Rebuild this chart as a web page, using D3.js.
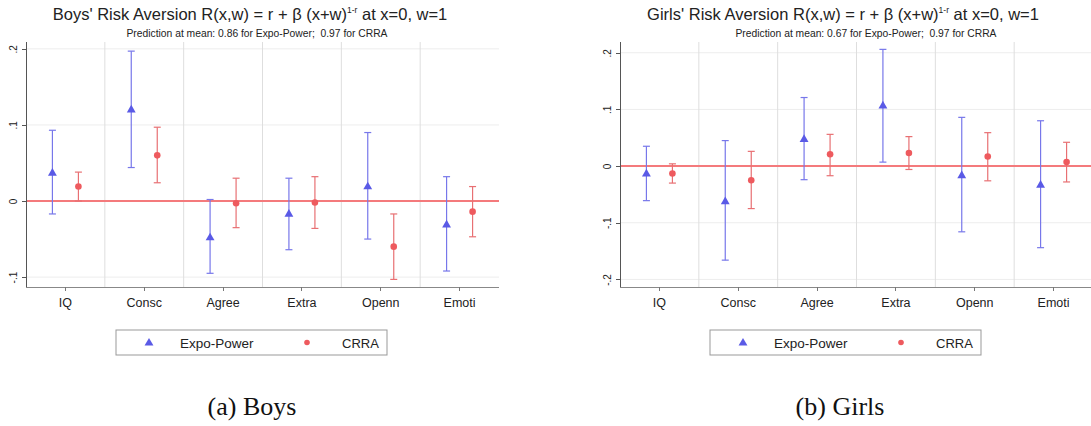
<!DOCTYPE html>
<html lang="en">
<head>
<meta charset="utf-8">
<title>Risk Aversion by personality trait</title>
<script src="https://cdn.jsdelivr.net/npm/d3@7"></script>
<style>
    body { margin: 0; background: #fff; }
    .axis path, .axis line { fill: none; shape-rendering: crispEdges; }
    .axis text { font-family: "Liberation Sans", Arial, sans-serif; fill: #222; }
</style>
</head>
<body>
<script>
// categories and values
var categories = ["IQ", "Consc", "Agree", "Extra", "Openn", "Emoti"];

var boysExpo   = [0.038, 0.121, -0.047, -0.016, 0.020, -0.030];
var boysExpoLo = [-0.017, 0.044, -0.095, -0.064, -0.050, -0.092];
var boysExpoHi = [0.093, 0.197, 0.002, 0.030, 0.090, 0.032];
var boysCrra   = [0.019, 0.060, -0.003, -0.002, -0.060, -0.014];
var boysCrraLo = [0.000, 0.024, -0.035, -0.036, -0.103, -0.047];
var boysCrraHi = [0.038, 0.097, 0.030, 0.032, -0.017, 0.019];

var girlsExpo   = [-0.012, -0.061, 0.049, 0.108, -0.015, -0.032];
var girlsExpoLo = [-0.061, -0.166, -0.024, 0.007, -0.116, -0.144];
var girlsExpoHi = [0.035, 0.045, 0.121, 0.206, 0.086, 0.080];
var girlsCrra   = [-0.013, -0.025, 0.021, 0.023, 0.017, 0.007];
var girlsCrraLo = [-0.030, -0.075, -0.017, -0.006, -0.026, -0.028];
var girlsCrraHi = [0.004, 0.026, 0.056, 0.052, 0.059, 0.042];

var boysTicks  = [-0.1, 0, 0.1, 0.2];
var girlsTicks = [-0.2, -0.1, 0, 0.1, 0.2];

var seriesNames = ["Expo-Power", "CRRA"];

var blue = "#5a5ae6", blueLine = "#7777ea";
var red = "#ee5a5e", redLine = "#e87073";

var svg = d3.select("body").append("svg")
    .attr("width", 1091)
    .attr("height", 426);

function stataFmt(d) {
    if (Math.abs(d) < 1e-9) return "0";
    return (d < 0 ? "-" : "") + "." + Math.round(Math.abs(d) * 10);
}

function drawPanel(opt) {
    var g = svg.append("g").attr("transform", "translate(" + opt.dx + ",0)");
    var left = 26, right = 499, top = 42, bottom = 287;

    var x = d3.scaleBand().domain(categories).range([left, right]);
    var y = d3.scaleLinear().domain(opt.yDomain).range([bottom, top]);

    // grid
    g.append("g").selectAll("line").data(opt.ticks.filter(function(d) { return d !== 0; }))
        .enter().append("line")
        .attr("x1", left).attr("x2", right)
        .attr("y1", function(d) { return y(d); }).attr("y2", function(d) { return y(d); })
        .attr("stroke", "#ededed").attr("stroke-width", 1);
    g.append("g").selectAll("line").data(categories.slice(1))
        .enter().append("line")
        .attr("x1", function(d) { return x(d); }).attr("x2", function(d) { return x(d); })
        .attr("y1", top).attr("y2", bottom)
        .attr("stroke", "#dedede").attr("stroke-width", 1);

    // zero line
    g.append("line")
        .attr("x1", left).attr("x2", right)
        .attr("y1", y(0)).attr("y2", y(0))
        .attr("stroke", "#f47a7c").attr("stroke-width", 2);

    // axes
    var yAxis = d3.axisLeft(y).tickValues(opt.ticks).tickFormat(stataFmt).tickSize(4).tickPadding(5);
    var ya = g.append("g").attr("class", "axis").attr("transform", "translate(" + left + ",0)").call(yAxis);
    ya.select(".domain").attr("stroke", "#555").attr("d", "M0," + top + "V" + bottom);
    ya.selectAll(".tick line").attr("stroke", "#555");
    ya.selectAll("text")
        .attr("font-size", 10)
        .attr("text-anchor", "middle")
        .attr("transform", "translate(-13,0) rotate(-90)")
        .attr("x", 0).attr("dy", "0.35em");

    var xAxis = d3.axisBottom(x).tickSize(4).tickPadding(7);
    var xa = g.append("g").attr("class", "axis").attr("transform", "translate(0," + bottom + ")").call(xAxis);
    xa.select(".domain").attr("stroke", "#888").attr("d", "M" + left + ",0H" + right);
    xa.selectAll(".tick line").attr("stroke", "#777");
    xa.selectAll("text").attr("font-size", 12.5);

    var off = 13;
    var tri = d3.symbol().type(d3.symbolTriangle).size(34);

    function errBars(vals, lo, hi, dxOff, col) {
        var gg = g.append("g");
        categories.forEach(function(c, i) {
            var cx = x(c) + x.bandwidth() / 2 + dxOff;
            gg.append("line").attr("x1", cx).attr("x2", cx)
                .attr("y1", y(lo[i])).attr("y2", y(hi[i]))
                .attr("stroke", col).attr("stroke-width", 1.2);
            [lo[i], hi[i]].forEach(function(v) {
                gg.append("line").attr("x1", cx - 3.5).attr("x2", cx + 3.5)
                    .attr("y1", y(v)).attr("y2", y(v))
                    .attr("stroke", col).attr("stroke-width", 1.2);
            });
        });
    }

    errBars(opt.expo, opt.expoLo, opt.expoHi, -off, blueLine);
    errBars(opt.crra, opt.crraLo, opt.crraHi, off, redLine);

    g.append("g").selectAll("path").data(opt.expo).enter().append("path")
        .attr("d", tri)
        .attr("transform", function(d, i) {
            return "translate(" + (x(categories[i]) + x.bandwidth() / 2 - off) + "," + (y(d) + 1) + ")";
        })
        .attr("fill", blue);
    g.append("g").selectAll("circle").data(opt.crra).enter().append("circle")
        .attr("cx", function(d, i) { return x(categories[i]) + x.bandwidth() / 2 + off; })
        .attr("cy", function(d) { return y(d); })
        .attr("r", 3.3)
        .attr("fill", red);

    // titles
    var t = g.append("text").attr("x", opt.titleX).attr("y", 20)
        .attr("text-anchor", "middle")
        .attr("font-family", "Liberation Sans, Arial, sans-serif")
        .attr("font-size", 16.5).attr("fill", "#222");
    t.append("tspan").text(opt.who + "' Risk Aversion R(x,w) = r + \u03b2 (x+w)");
    t.append("tspan").attr("font-size", 8.5).attr("dy", -7).text("1-r");
    t.append("tspan").attr("dy", 7).text(" at x=0, w=1");

    g.append("text").attr("x", opt.subX).attr("y", 37)
        .attr("text-anchor", "middle")
        .attr("font-family", "Liberation Sans, Arial, sans-serif")
        .attr("font-size", 10.3).attr("fill", "#222")
        .text(opt.sub);

    // legend
    var lg = g.append("g");
    lg.append("rect").attr("x", 116).attr("y", 330).attr("width", 271).attr("height", 25)
        .attr("fill", "#fff").attr("stroke", "#999").attr("stroke-width", 1);
    lg.append("path").attr("d", tri).attr("transform", "translate(149,343)").attr("fill", blue);
    lg.append("text").attr("x", 180).attr("y", 347.5)
        .attr("font-family", "Liberation Sans, Arial, sans-serif")
        .attr("font-size", 13.5).attr("fill", "#222").text(seriesNames[0]);
    lg.append("circle").attr("cx", 307).attr("cy", 342.5).attr("r", 2.8).attr("fill", red);
    lg.append("text").attr("x", 342).attr("y", 347.5)
        .attr("font-family", "Liberation Sans, Arial, sans-serif")
        .attr("font-size", 13).attr("fill", "#222").text(seriesNames[1]);

    // caption
    g.append("text").attr("x", opt.capX).attr("y", 415)
        .attr("text-anchor", "middle")
        .attr("font-family", "Liberation Serif, Times New Roman, serif")
        .attr("font-size", 26).attr("fill", "#111")
        .text(opt.caption);
}

drawPanel({
    dx: 0, who: "Boys", yDomain: [-0.113, 0.209], ticks: boysTicks,
    expo: boysExpo, expoLo: boysExpoLo, expoHi: boysExpoHi,
    crra: boysCrra, crraLo: boysCrraLo, crraHi: boysCrraHi,
    titleX: 250, subX: 257, capX: 252,
    sub: "Prediction at mean: 0.86 for Expo-Power;\u00a0 0.97 for CRRA",
    caption: "(a) Boys"
});

drawPanel({
    dx: 594, who: "Girls", yDomain: [-0.2134, 0.219], ticks: girlsTicks,
    expo: girlsExpo, expoLo: girlsExpoLo, expoHi: girlsExpoHi,
    crra: girlsCrra, crraLo: girlsCrraLo, crraHi: girlsCrraHi,
    titleX: 249, subX: 272, capX: 246,
    sub: "Prediction at mean: 0.67 for Expo-Power;\u00a0 0.97 for CRRA",
    caption: "(b) Girls"
});
</script>
</body>
</html>
